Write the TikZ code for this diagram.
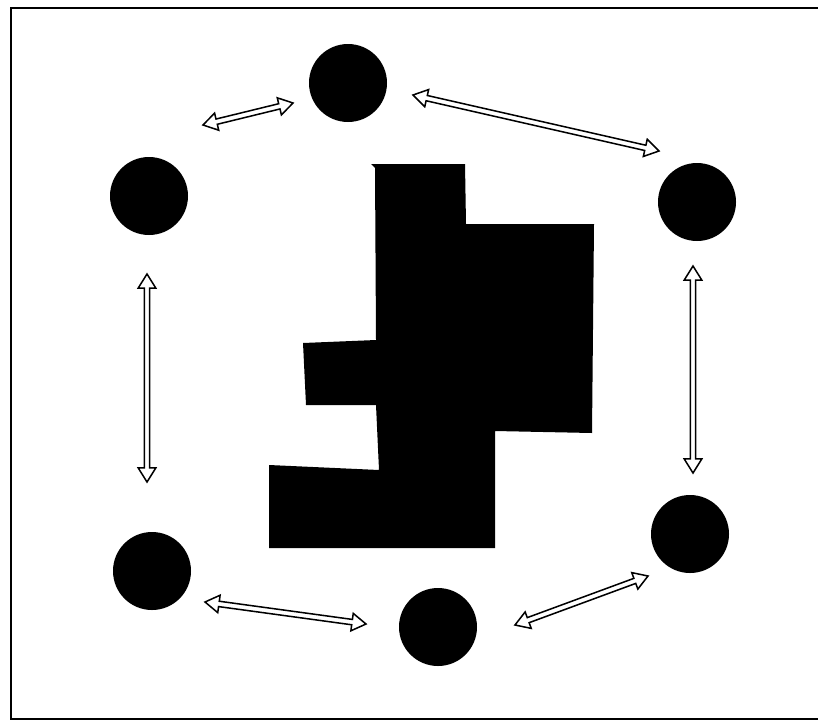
\documentclass[tikz,border=0pt]{standalone}
\usetikzlibrary{calc}
\tikzset{
  station/.style={circle, fill=black, minimum size=2.34cm, inner sep=0pt},
  twoway/.style={draw=black, fill=white, line width=1.3pt},
  block/.style={fill=black},
  frameline/.style={line width=1.7pt},
}
% outlined two-headed arrow between two named points
\newcommand{\twoarrow}[2]{%
  \draw[twoway] let \p1=($(#2)-(#1)$), \n1={atan2(\y1,\x1)}, \n2={veclen(\x1,\y1)}, \n3={\n2-12pt} in
    (#1) -- ($(#1)+(\n1:12pt)+(\n1+90:7.5pt)$) -- ($(#1)+(\n1:12pt)+(\n1+90:2.3pt)$)
    -- ($(#1)+(\n1:\n3)+(\n1+90:2.3pt)$) -- ($(#1)+(\n1:\n3)+(\n1+90:7.5pt)$)
    -- (#2)
    -- ($(#1)+(\n1:\n3)+(\n1-90:7.5pt)$) -- ($(#1)+(\n1:\n3)+(\n1-90:2.3pt)$)
    -- ($(#1)+(\n1:12pt)+(\n1-90:2.3pt)$) -- ($(#1)+(\n1:12pt)+(\n1-90:7.5pt)$) -- cycle;}

\begin{document}
\begin{tikzpicture}[x=0.03cm, y=-0.03cm]
\useasboundingbox (0,0) rectangle (818,721);

% frame
\draw[frameline] (830,8) -- (11,8) -- (11,719) -- (830,719);

% stations
\node[station] (top) at (348,83) {};
\node[station] (upleft) at (149,196) {};
\node[station] (upright) at (697,202) {};
\node[station] (lowleft) at (152,571) {};
\node[station] (lowright) at (690,534) {};
\node[station] (bottom) at (438,627) {};

% central block
\fill[block] (371,164) -- (465,164) -- (466,224) -- (594,224) -- (592,433) -- (495,431)
  -- (495,548) -- (269,548) -- (269,465) -- (379,470) -- (376,405) -- (306,405)
  -- (303,343) -- (376,340) -- (375,168) -- cycle;

% arrow ends
\coordinate (tlA) at (203,125);  \coordinate (tlB) at (293,103);
\coordinate (trA) at (413,95);   \coordinate (trB) at (659,151);
\coordinate (lA) at (147,274);   \coordinate (lB) at (147,482);
\coordinate (rA) at (693,266);   \coordinate (rB) at (693,473);
\coordinate (blA) at (205,602);  \coordinate (blB) at (366,624);
\coordinate (brA) at (515,625);  \coordinate (brB) at (648,576);

\foreach \a/\b in {tlA/tlB, trA/trB, lA/lB, rA/rB, blA/blB, brA/brB}
  \twoarrow{\a}{\b};
\end{tikzpicture}
\end{document}
